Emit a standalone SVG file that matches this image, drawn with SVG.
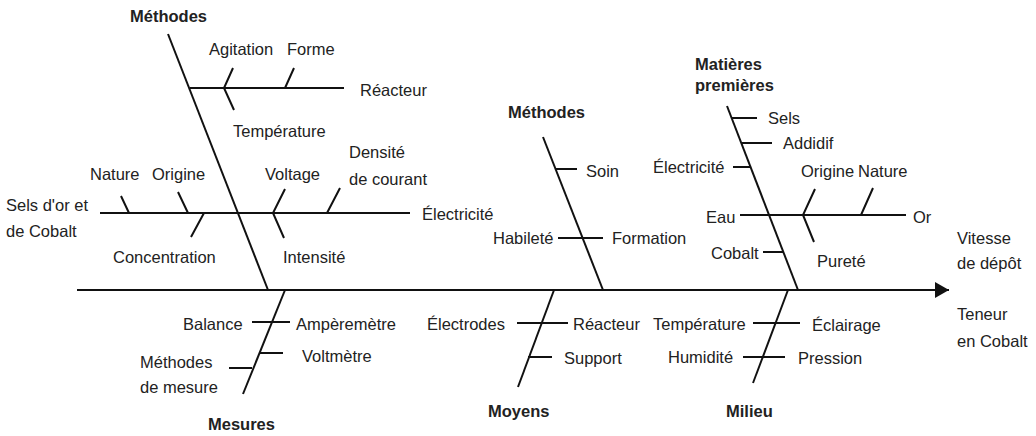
<svg xmlns="http://www.w3.org/2000/svg" width="1036" height="436" viewBox="0 0 1036 436">
  <style>
    text { font-family: "Liberation Sans", Arial, sans-serif; font-size: 16.5px; fill: #222; }
    text.head { font-weight: bold; }
    .bone { stroke: #111; stroke-width: 2; fill: none; stroke-linecap: butt; }
    .spine { stroke: #111; stroke-width: 2.2; fill: none; }
  </style>
  <defs>
    <marker id="arrow" markerUnits="userSpaceOnUse" markerWidth="16" markerHeight="18" refX="14" refY="8" orient="auto">
      <path d="M0,0 L14,8 L0,16 Z" fill="#111"/>
    </marker>
  </defs>
  <rect width="1036" height="436" fill="#fff"/>

  <!-- fishbone skeleton -->
  <g id="connectors">
    <path class="spine" d="M77 290 H949" marker-end="url(#arrow)"/>

    <!-- Méthodes (left) -->
    <path class="bone" d="M168 34 L268 290"/>
    <path class="bone" d="M190 88 H344 M233 68 L224 88 L234 110 M294 68 L285 88"/>
    <path class="bone" d="M100 213 H410 M121 196 L129 213 M178 192 L188 213 M204 213 L191 237 M285 189 L273 213 L284 238 M340 188 L327 213"/>

    <!-- Mesures -->
    <path class="bone" d="M285 290 L243 394"/>
    <path class="bone" d="M252 322 H290 M260 353 H283 M229 368 H252"/>

    <!-- Méthodes (middle) -->
    <path class="bone" d="M543 137 L603 290"/>
    <path class="bone" d="M556 169 H577 M558 238 H603"/>

    <!-- Moyens -->
    <path class="bone" d="M554 290 L518 387"/>
    <path class="bone" d="M517 323 H568 M528 357 H552"/>

    <!-- Matières premières -->
    <path class="bone" d="M727 106 L798 290"/>
    <path class="bone" d="M732 118 H757 M742 143 H772 M733 167 H751 M763 252 H784"/>
    <path class="bone" d="M740 215 H906 M815 189 L803 215 L814 242 M873 188 L861 215"/>

    <!-- Milieu -->
    <path class="bone" d="M788 290 L753 383"/>
    <path class="bone" d="M753 323 H800 M743 357 H785"/>
  </g>

  <g id="methodes-gauche">
    <text class="head" x="130" y="22">Méthodes</text>
    <text x="209" y="55">Agitation</text>
    <text x="287" y="55">Forme</text>
    <text x="360" y="96">Réacteur</text>
    <text x="233" y="137">Température</text>
    <text x="90" y="180">Nature</text>
    <text x="152" y="180">Origine</text>
    <text x="6" y="211">Sels d'or et</text>
    <text x="6" y="237">de Cobalt</text>
    <text x="113" y="263">Concentration</text>
    <text x="265" y="180">Voltage</text>
    <text x="349" y="158">Densité</text>
    <text x="349" y="185">de courant</text>
    <text x="283" y="263">Intensité</text>
    <text x="422" y="220">Électricité</text>
  </g>

  <g id="mesures">
    <text x="183" y="330">Balance</text>
    <text x="296" y="330">Ampèremètre</text>
    <text x="302" y="362">Voltmètre</text>
    <text x="140" y="368">Méthodes</text>
    <text x="140" y="393">de mesure</text>
    <text class="head" x="208" y="430">Mesures</text>
  </g>

  <g id="methodes-centre">
    <text class="head" x="508" y="118">Méthodes</text>
    <text x="586" y="177">Soin</text>
    <text x="493" y="244">Habileté</text>
    <text x="612" y="244">Formation</text>
  </g>

  <g id="moyens">
    <text x="427" y="330">Électrodes</text>
    <text x="573" y="330">Réacteur</text>
    <text x="564" y="364">Support</text>
    <text class="head" x="488" y="417">Moyens</text>
  </g>

  <g id="matieres-premieres">
    <text class="head" x="695" y="70">Matières</text>
    <text class="head" x="695" y="91">premières</text>
    <text x="768" y="124">Sels</text>
    <text x="783" y="149">Addidif</text>
    <text x="653" y="173">Électricité</text>
    <text x="801" y="177">Origine</text>
    <text x="858" y="177">Nature</text>
    <text x="706" y="223">Eau</text>
    <text x="913" y="223">Or</text>
    <text x="711" y="259">Cobalt</text>
    <text x="817" y="267">Pureté</text>
  </g>

  <g id="milieu">
    <text x="653" y="330">Température</text>
    <text x="812" y="331">Éclairage</text>
    <text x="668" y="363">Humidité</text>
    <text x="798" y="364">Pression</text>
    <text class="head" x="726" y="417">Milieu</text>
  </g>

  <g id="effet">
    <text x="957" y="244">Vitesse</text>
    <text x="957" y="269">de dépôt</text>
    <text x="957" y="320">Teneur</text>
    <text x="957" y="347">en Cobalt</text>
  </g>
</svg>
